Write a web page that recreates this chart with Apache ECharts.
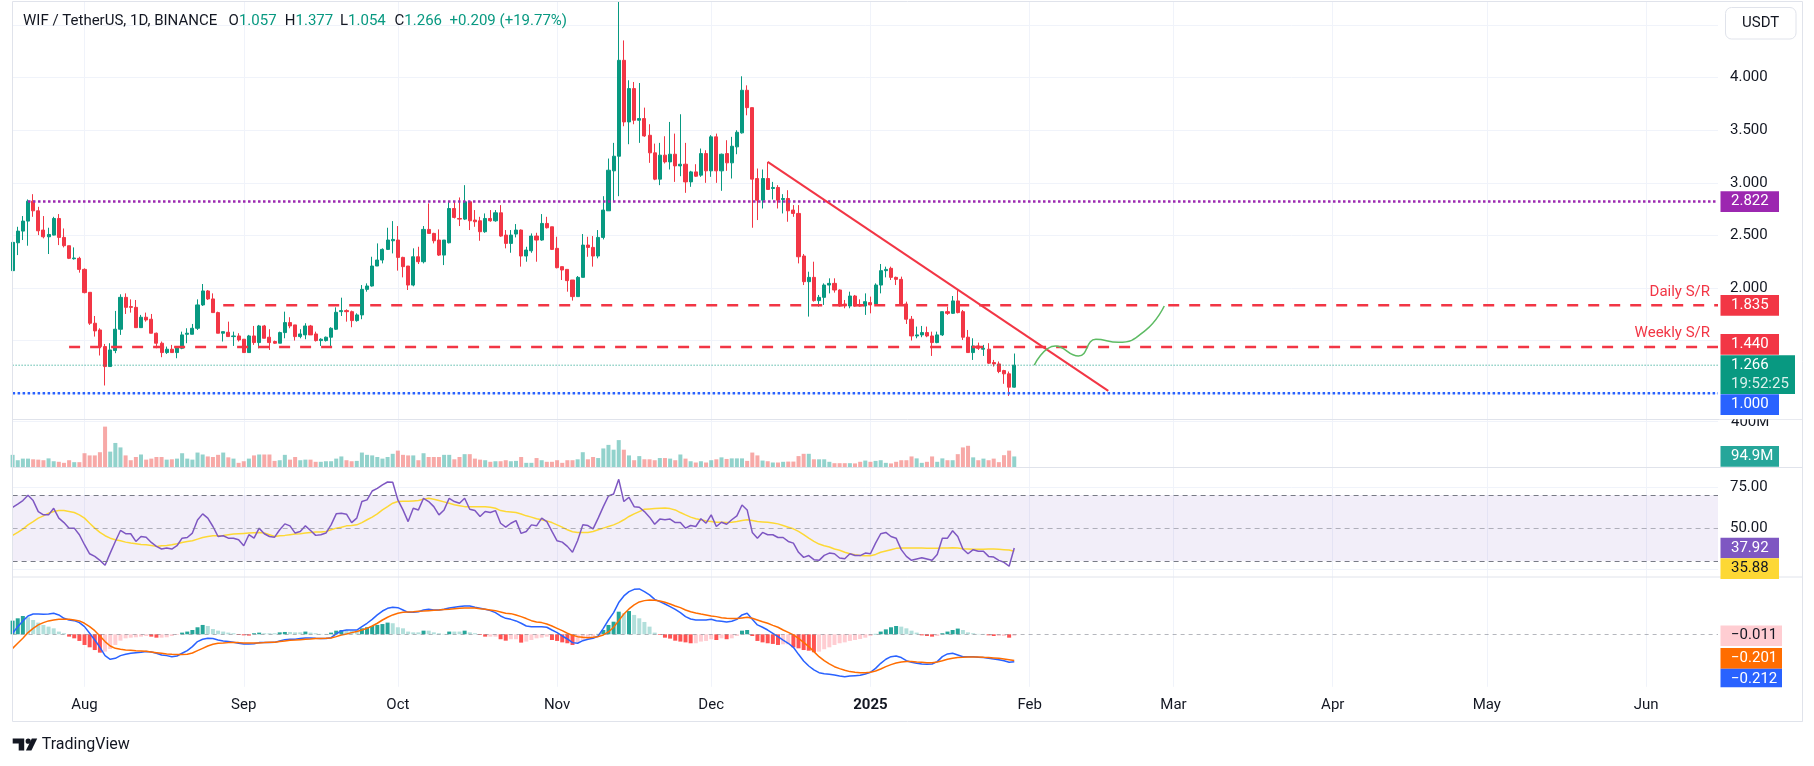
<!DOCTYPE html>
<html><head><meta charset="utf-8">
<script src="https://cdn.jsdelivr.net/npm/echarts@6/dist/echarts.min.js"></script>
<style>html,body{margin:0;padding:0;background:#fff;}#c{width:1814px;height:766px;}</style>
</head><body><div id="c"></div>
<script>
// ---------- data ----------
const START_DATE = [2024, 6, 18];   // first candle: 18 Jul 2024
const AXIS_DAYS = 333;              // axis runs to mid June 2025
const MONTHS = ['Jan','Feb','Mar','Apr','May','Jun','Jul','Aug','Sep','Oct','Nov','Dec'];

const opens = [
2.165,2.430,2.541,2.636,2.826,2.734,2.551,2.487,2.503,2.661,
2.481,2.402,2.278,2.282,2.177,1.959,1.665,1.601,1.443,1.253,
1.405,1.608,1.911,1.823,1.816,1.623,1.722,1.703,1.570,1.475,
1.386,1.418,1.386,1.427,1.560,1.560,1.617,1.839,1.972,1.896,
1.766,1.570,1.579,1.538,1.544,1.513,1.386,1.544,1.481,1.639,
1.532,1.491,1.475,1.576,1.671,1.649,1.538,1.554,1.639,1.563,
1.500,1.500,1.532,1.608,1.775,1.785,1.775,1.690,1.744,1.987,
2.019,2.209,2.266,2.367,2.449,2.456,2.291,2.209,2.028,2.297,
2.250,2.557,2.519,2.456,2.313,2.430,2.756,2.661,2.655,2.820,
2.646,2.639,2.535,2.661,2.639,2.715,2.503,2.424,2.513,2.551,
2.304,2.354,2.494,2.456,2.614,2.582,2.377,2.203,2.177,2.076,
1.918,2.101,2.408,2.386,2.304,2.481,2.734,3.114,3.253,4.165,
3.579,3.896,3.595,3.611,3.452,3.285,3.035,3.263,3.199,3.272,
3.161,3.177,3.009,3.104,3.073,3.278,3.114,3.437,3.114,3.278,
3.190,3.342,3.475,3.880,3.715,3.041,2.835,3.041,2.946,2.956,
2.842,2.851,2.741,2.709,2.304,2.060,2.101,1.880,1.911,2.028,
2.044,1.981,1.848,1.829,1.924,1.839,1.829,1.861,1.848,2.028,
2.165,2.187,2.101,2.082,1.848,1.703,1.544,1.554,1.576,1.544,
1.481,1.554,1.775,1.759,1.877,1.775,1.532,1.386,1.449,1.418,
1.418,1.291,1.278,1.215,1.184,1.057];
const highs = [
2.456,2.582,2.684,2.842,2.892,2.772,2.684,2.573,2.677,2.703,
2.566,2.402,2.386,2.297,2.187,1.959,1.734,1.617,1.468,1.475,
1.782,1.940,1.949,1.892,1.886,1.744,1.766,1.753,1.576,1.491,
1.443,1.459,1.443,1.585,1.617,1.658,1.892,2.038,1.981,1.949,
1.775,1.585,1.680,1.585,1.570,1.513,1.554,1.639,1.649,1.649,
1.608,1.500,1.585,1.775,1.722,1.649,1.608,1.665,1.649,1.585,
1.522,1.538,1.627,1.816,1.908,1.797,1.785,1.759,2.028,2.044,
2.297,2.424,2.377,2.573,2.636,2.589,2.297,2.209,2.377,2.392,
2.589,2.804,2.525,2.557,2.456,2.826,2.820,2.861,2.978,2.826,
2.741,2.677,2.709,2.741,2.741,2.788,2.551,2.551,2.608,2.557,
2.392,2.519,2.525,2.703,2.677,2.582,2.487,2.203,2.177,2.076,
2.114,2.513,2.487,2.494,2.551,2.873,3.231,3.380,4.720,4.354,
3.975,3.959,3.949,3.715,3.557,3.373,3.380,3.443,3.579,3.468,
3.652,3.380,3.114,3.177,3.326,3.310,3.453,3.468,3.278,3.405,
3.437,3.500,4.013,3.927,3.715,3.136,3.127,3.199,3.009,2.978,
2.892,2.930,2.788,2.788,2.323,2.155,2.250,1.934,2.044,2.092,
2.092,1.987,1.886,1.965,1.934,1.892,1.949,1.918,2.044,2.228,
2.203,2.203,2.108,2.108,1.870,1.734,1.633,1.639,1.633,1.585,
1.585,1.775,1.823,1.924,1.981,1.791,1.601,1.522,1.481,1.459,
1.475,1.316,1.301,1.222,1.206,1.377];
const lows = [
2.150,2.313,2.456,2.402,2.677,2.503,2.472,2.323,2.500,2.408,
2.386,2.275,2.270,2.146,1.949,1.649,1.538,1.358,1.073,1.253,
1.380,1.554,1.753,1.766,1.623,1.623,1.680,1.570,1.427,1.342,
1.373,1.386,1.332,1.418,1.475,1.560,1.601,1.829,1.886,1.766,
1.570,1.491,1.535,1.449,1.491,1.386,1.386,1.459,1.427,1.522,
1.411,1.469,1.475,1.522,1.617,1.500,1.522,1.513,1.554,1.491,
1.449,1.491,1.443,1.601,1.734,1.680,1.627,1.680,1.703,1.965,
2.013,2.209,2.234,2.361,2.329,2.165,2.101,1.981,2.016,2.228,
2.234,2.519,2.424,2.304,2.218,2.424,2.661,2.589,2.646,2.551,
2.582,2.449,2.525,2.630,2.630,2.487,2.377,2.335,2.481,2.203,
2.250,2.335,2.250,2.449,2.566,2.361,2.187,2.076,1.965,1.880,
1.918,2.101,2.297,2.203,2.282,2.462,2.734,2.820,2.873,3.538,
3.367,3.557,3.380,3.437,3.190,3.025,2.978,3.184,3.127,3.009,
3.063,2.905,2.962,3.057,3.057,3.000,3.057,3.000,2.924,3.114,
3.041,3.272,3.468,3.642,2.573,2.646,2.756,2.937,2.842,2.756,
2.709,2.630,2.677,2.234,2.028,1.728,1.870,1.823,1.839,1.949,
1.956,1.823,1.807,1.807,1.823,1.823,1.744,1.759,1.839,1.949,
2.101,2.076,2.028,1.839,1.658,1.500,1.522,1.532,1.532,1.354,
1.475,1.544,1.744,1.753,1.759,1.506,1.386,1.316,1.411,1.354,
1.278,1.253,1.190,1.089,0.975,1.054];
const closes = [
2.434,2.541,2.636,2.826,2.734,2.544,2.487,2.509,2.661,2.481,
2.402,2.282,2.285,2.177,1.956,1.665,1.592,1.443,1.253,1.411,
1.608,1.911,1.816,1.816,1.623,1.722,1.696,1.570,1.475,1.386,
1.418,1.386,1.437,1.554,1.570,1.617,1.839,1.972,1.896,1.766,
1.570,1.585,1.538,1.544,1.506,1.386,1.544,1.481,1.639,1.522,
1.481,1.475,1.576,1.671,1.639,1.538,1.563,1.639,1.554,1.500,
1.513,1.532,1.617,1.769,1.785,1.775,1.690,1.744,1.987,2.019,
2.209,2.266,2.367,2.456,2.462,2.291,2.203,2.028,2.297,2.250,
2.557,2.519,2.449,2.313,2.456,2.756,2.671,2.655,2.820,2.639,
2.630,2.535,2.661,2.639,2.715,2.494,2.424,2.503,2.551,2.304,
2.361,2.494,2.456,2.614,2.573,2.367,2.193,2.171,2.070,1.918,
2.101,2.408,2.386,2.304,2.481,2.741,3.120,3.253,4.165,3.579,
3.896,3.595,3.611,3.446,3.285,3.035,3.263,3.199,3.272,3.161,
3.177,3.009,3.104,3.063,3.278,3.114,3.437,3.114,3.272,3.190,
3.348,3.481,3.880,3.715,3.035,2.835,3.041,2.937,2.956,2.835,
2.851,2.734,2.709,2.297,2.060,2.101,1.880,1.911,2.028,2.044,
1.981,1.829,1.829,1.924,1.829,1.829,1.870,1.839,2.028,2.165,
2.177,2.101,2.082,1.848,1.703,1.544,1.554,1.576,1.544,1.481,
1.554,1.775,1.759,1.877,1.766,1.532,1.386,1.449,1.427,1.427,
1.285,1.278,1.206,1.184,1.057,1.266];
// volume in millions
const volumes = [
109,62,76,76,70,67,62,78,53,48,
39,62,45,45,123,104,104,132,356,137,
213,174,104,62,90,112,67,76,90,90,
67,70,76,123,76,67,129,112,95,90,
109,129,87,76,39,53,76,104,112,112,
112,56,62,109,67,90,62,67,67,48,
48,53,53,76,95,62,53,56,129,109,
104,90,76,90,118,146,109,104,104,62,
123,90,90,90,109,109,70,90,115,115,
76,67,62,48,53,53,62,53,56,90,
39,39,81,62,48,48,62,39,62,62,
70,132,70,90,81,165,196,154,238,154,
104,62,98,70,70,62,81,81,76,62,
112,76,53,42,53,42,62,70,87,73,
78,78,78,56,129,104,59,53,42,42,
48,50,50,98,118,118,70,70,70,48,
36,36,36,36,34,48,59,48,56,62,
39,34,48,62,62,95,78,39,48,95,
48,78,62,62,115,174,188,87,62,76,
62,76,45,106,146,94.9];
const rsi = [
62.7,64.7,66.8,70.0,66.8,60.1,58.1,58.1,62.1,56.1,
53.4,50.0,50.0,46.0,39.9,34.4,32.8,30.4,27.4,34.8,
41.9,48.6,46.6,46.6,41.9,44.9,44.5,41.3,38.9,37.3,
37.9,37.3,39.3,43.9,44.3,47.0,55.0,58.7,56.1,51.0,
44.9,45.4,43.9,43.9,42.9,39.3,46.0,43.9,50.0,46.6,
44.9,44.5,49.0,52.6,51.4,47.0,48.0,51.4,48.6,45.6,
46.0,47.0,52.0,58.7,59.1,58.5,53.4,56.1,66.2,67.2,
72.6,74.2,76.3,78.1,77.9,67.2,61.1,54.0,62.1,61.1,
68.2,66.2,63.1,58.1,61.1,68.2,66.2,65.2,68.2,61.5,
60.7,57.1,60.1,59.5,60.7,53.0,50.6,53.0,54.6,46.8,
48.0,52.0,51.4,56.1,54.0,48.0,42.3,41.5,38.9,35.3,
42.5,52.0,51.6,49.6,56.1,63.1,69.6,70.8,79.7,66.2,
68.8,63.1,62.7,60.1,56.7,52.4,55.5,55.1,55.5,53.4,
53.4,50.0,51.6,51.0,55.7,53.0,58.1,51.0,53.6,52.4,
55.1,57.5,64.1,61.1,47.4,43.9,47.4,46.0,46.0,44.3,
44.3,41.9,40.9,35.3,32.2,33.3,30.8,30.4,33.4,34.8,
34.4,31.8,31.4,34.4,33.3,33.3,34.8,34.4,40.9,46.6,
47.4,44.9,43.9,36.9,32.8,30.4,31.2,32.0,31.2,30.4,
33.9,43.9,43.9,48.4,44.9,37.3,34.4,36.9,35.9,35.9,
32.8,32.4,30.4,29.2,26.8,37.92];
const rsiMA = [
45.6,47.4,49.4,52.0,54.0,56.1,57.5,59.1,60.1,60.7,
60.7,60.1,59.5,58.1,56.1,53.0,50.0,47.4,45.4,43.9,
42.9,42.3,41.5,40.9,40.5,40.1,39.9,39.5,38.9,39.3,
39.5,39.9,40.5,41.3,41.9,42.3,43.3,44.3,44.9,45.4,
45.4,45.6,46.0,46.4,46.6,46.8,47.0,47.2,47.4,47.0,
46.0,44.9,45.4,45.6,46.0,46.4,46.6,47.0,47.4,47.6,
47.6,48.0,49.0,50.0,50.6,51.4,51.6,52.0,53.4,55.1,
56.7,58.7,61.1,63.1,65.2,66.2,66.4,66.4,66.6,66.8,
67.6,68.2,67.6,66.8,66.0,65.2,64.3,63.7,63.1,63.1,
63.1,63.1,63.1,62.7,62.1,60.7,60.1,59.9,59.5,58.6,
57.5,56.7,55.7,55.1,54.4,53.4,52.0,50.6,49.0,47.8,
47.4,47.4,47.4,48.0,49.0,50.0,51.0,52.0,53.4,55.1,
57.1,58.7,60.1,61.5,61.7,61.9,62.1,62.3,61.9,61.1,
59.5,58.1,56.7,55.7,55.1,54.4,54.0,53.6,53.6,53.4,
53.6,54.0,54.6,55.1,54.6,54.0,53.8,53.6,53.2,52.6,
51.6,50.6,49.6,48.0,46.0,43.9,41.9,40.3,39.3,38.5,
37.3,36.5,35.3,34.4,33.8,33.4,33.2,33.2,34.0,35.3,
36.1,36.9,37.7,37.9,37.9,37.9,37.9,37.9,37.7,37.7,
37.7,37.9,37.9,38.1,37.9,37.5,37.3,37.1,37.1,37.1,
37.3,37.3,37.1,36.9,36.7,35.88];
const macd = [
0.008,0.059,0.103,0.141,0.156,0.156,0.154,0.156,0.162,0.149,
0.123,0.110,0.105,0.090,0.059,0.008,-0.044,-0.100,-0.164,-0.192,
-0.185,-0.164,-0.154,-0.146,-0.141,-0.138,-0.133,-0.136,-0.146,-0.159,
-0.164,-0.172,-0.167,-0.146,-0.126,-0.095,-0.056,-0.038,-0.031,-0.033,
-0.044,-0.051,-0.056,-0.062,-0.069,-0.074,-0.074,-0.072,-0.064,-0.064,
-0.064,-0.062,-0.051,-0.041,-0.038,-0.038,-0.033,-0.028,-0.028,-0.031,
-0.033,-0.033,-0.026,0.003,0.026,0.033,0.033,0.033,0.059,0.085,
0.115,0.149,0.179,0.200,0.208,0.205,0.187,0.169,0.169,0.174,
0.187,0.192,0.187,0.187,0.192,0.203,0.208,0.213,0.218,0.218,
0.208,0.200,0.192,0.182,0.167,0.141,0.123,0.115,0.103,0.085,
0.064,0.059,0.059,0.059,0.054,0.033,0.013,-0.013,-0.036,-0.064,
-0.069,-0.049,-0.038,-0.031,-0.013,0.046,0.110,0.167,0.244,0.295,
0.328,0.346,0.349,0.328,0.303,0.269,0.251,0.233,0.213,0.192,
0.167,0.136,0.118,0.110,0.110,0.110,0.115,0.105,0.100,0.095,
0.100,0.115,0.149,0.162,0.115,0.072,0.054,0.033,0.008,-0.018,
-0.044,-0.069,-0.100,-0.154,-0.205,-0.244,-0.274,-0.295,-0.303,-0.308,
-0.313,-0.321,-0.326,-0.321,-0.318,-0.315,-0.305,-0.292,-0.262,-0.223,
-0.192,-0.172,-0.167,-0.179,-0.203,-0.215,-0.223,-0.228,-0.231,-0.228,
-0.210,-0.172,-0.151,-0.146,-0.159,-0.172,-0.172,-0.172,-0.177,-0.179,
-0.185,-0.190,-0.195,-0.203,-0.215,-0.212];
const signal = [
-0.108,-0.069,-0.031,0.013,0.046,0.072,0.090,0.103,0.110,0.115,
0.115,0.115,0.110,0.103,0.085,0.059,0.028,-0.013,-0.056,-0.090,
-0.108,-0.115,-0.121,-0.123,-0.126,-0.128,-0.131,-0.136,-0.141,-0.146,
-0.151,-0.154,-0.156,-0.156,-0.154,-0.144,-0.126,-0.108,-0.090,-0.077,
-0.069,-0.067,-0.064,-0.064,-0.064,-0.067,-0.067,-0.067,-0.067,-0.064,
-0.062,-0.062,-0.056,-0.051,-0.046,-0.044,-0.041,-0.038,-0.036,-0.033,
-0.033,-0.031,-0.028,-0.018,-0.005,0.003,0.013,0.021,0.033,0.046,
0.064,0.085,0.110,0.131,0.149,0.162,0.169,0.172,0.174,0.177,
0.179,0.182,0.185,0.187,0.190,0.192,0.197,0.200,0.203,0.203,
0.203,0.197,0.192,0.187,0.182,0.172,0.162,0.159,0.149,0.136,
0.121,0.105,0.095,0.090,0.079,0.064,0.046,0.028,0.008,-0.008,
-0.018,-0.023,-0.026,-0.023,-0.018,-0.005,0.018,0.054,0.105,0.156,
0.195,0.226,0.249,0.259,0.264,0.262,0.256,0.246,0.233,0.218,
0.205,0.187,0.174,0.164,0.156,0.149,0.141,0.136,0.128,0.123,
0.121,0.121,0.126,0.131,0.123,0.110,0.097,0.085,0.069,0.054,
0.033,0.015,-0.005,-0.031,-0.062,-0.095,-0.133,-0.172,-0.203,-0.228,
-0.249,-0.264,-0.277,-0.287,-0.292,-0.295,-0.295,-0.292,-0.282,-0.267,
-0.249,-0.233,-0.221,-0.213,-0.210,-0.210,-0.213,-0.215,-0.218,-0.218,
-0.213,-0.203,-0.192,-0.185,-0.179,-0.177,-0.174,-0.174,-0.174,-0.177,
-0.179,-0.182,-0.185,-0.190,-0.195,-0.201];
const hist = [
0.105,0.123,0.141,0.131,0.110,0.090,0.072,0.059,0.046,0.021,
0.008,-0.018,-0.031,-0.051,-0.082,-0.100,-0.121,-0.141,-0.133,-0.113,
-0.082,-0.049,-0.031,-0.026,-0.023,-0.018,-0.013,-0.018,-0.026,-0.026,
-0.023,-0.013,-0.005,0.013,0.021,0.033,0.054,0.072,0.064,0.041,
0.028,0.021,0.013,0.008,-0.005,-0.008,-0.010,0.008,0.013,0.008,
0.008,0.008,0.015,0.018,0.018,0.015,0.015,0.021,0.013,0.008,
0.003,0.003,0.013,0.028,0.033,0.033,0.028,0.028,0.046,0.054,
0.064,0.072,0.079,0.090,0.085,0.054,0.046,0.021,0.015,0.015,
0.028,0.028,0.015,0.008,0.003,0.021,0.021,0.021,0.028,0.015,
0.008,-0.005,-0.018,-0.018,-0.018,-0.038,-0.049,-0.038,-0.038,-0.064,
-0.056,-0.044,-0.031,-0.026,-0.018,-0.044,-0.051,-0.062,-0.069,-0.082,
-0.064,-0.044,-0.031,-0.018,0.003,0.033,0.072,0.097,0.174,0.162,
0.179,0.149,0.123,0.095,0.059,0.013,-0.005,-0.026,-0.033,-0.049,
-0.056,-0.062,-0.069,-0.069,-0.056,-0.051,-0.038,-0.044,-0.031,-0.038,
-0.031,-0.013,0.028,0.033,-0.013,-0.051,-0.062,-0.069,-0.074,-0.082,
-0.077,-0.077,-0.100,-0.108,-0.121,-0.126,-0.138,-0.133,-0.115,-0.100,
-0.082,-0.069,-0.062,-0.051,-0.044,-0.036,-0.026,-0.013,0.003,0.021,
0.038,0.054,0.064,0.059,0.046,0.028,0.013,-0.008,-0.013,-0.018,
-0.013,0.008,0.021,0.033,0.044,0.033,0.015,0.008,0.003,0.003,
-0.008,-0.013,-0.013,-0.013,-0.026,-0.011];

const priceTickLabels = [2, 2.5, 3, 3.5, 4];
const priceGridValues = [1, 1.5, 2, 2.5, 3, 3.5, 4, 4.5];
const rsiTickLabels = [50, 75];
const rsiGridValues = [25, 75];
const rsiBands = [70, 50, 30];
const volumeTickLabel = 400;

// horizontal levels [value, first candle index]
const levelResistance = [2.822, 3];
const levelDaily = [1.835, 41];
const levelWeekly = [1.440, 11];
const levelLast = [1.266, 0];
const levelSupport = [1.000, 0];
// trend line and projected path (x in day index, y in price)
const trendLine = [[147, 3.199], [213.3, 1.022]];
const projection = [[198.9,1.267],[203.0,1.448],[207.5,1.353],[210.9,1.512],[215.3,1.483],[220.6,1.600],[224.2,1.829]];
const countdown = '19:52:25';

// ---------- build ----------
const FONT = 'Roboto, "Open Sans", Arial, sans-serif';
const TXT = '#131722', UP = '#089981', DOWN = '#F23645';
const dates = [];
const t0 = Date.UTC(START_DATE[0], START_DATE[1], START_DATE[2]);
for (let k = 0; k < AXIS_DAYS; k++) dates.push(new Date(t0 + k * 864e5).toISOString().slice(0, 10));
const isMonthStart = (i, v) => v.slice(8) === '01';
const LAST = AXIS_DAYS - 1;

const candleData = opens.map((o, i) => [o, closes[i], lows[i], highs[i]]);
const volData = volumes.map((v, i) => ({ value: v, itemStyle: { color: closes[i] >= opens[i] ? 'rgba(38,166,154,0.5)' : 'rgba(239,83,80,0.5)' } }));
const histData = hist.map((h, i) => {
  const p = i > 0 ? hist[i - 1] : -Infinity;
  let c;
  if (h >= 0) c = (i === 0 || h > p) ? '#26A69A' : '#B2DFDB';
  else c = (h < p) ? '#FF5252' : '#FFCDD2';
  return { value: h, itemStyle: { color: c } };
});

const L = 12.6, R = 96;
const grids = [
  { left: L, right: R, top: 2, height: 417.3 },
  { left: L, right: R, top: 419.3, height: 48 },
  { left: L, right: R, top: 467.3, height: 109.5 },
  { left: L, right: R, top: 576.8, height: 110 }
];
const mkX = (gi, show) => ({
  type: 'category', gridIndex: gi, data: dates, boundaryGap: false,
  axisLine: { show: false }, axisTick: { show: false },
  axisPointer: { show: false },
  axisLabel: show ? {
    show: true, interval: isMonthStart, margin: 11, color: TXT, fontSize: 15, fontFamily: FONT,
    formatter: v => { const m = +v.slice(5, 7); return m === 1 ? '{y|' + v.slice(0, 4) + '}' : MONTHS[m - 1]; },
    rich: { y: { fontWeight: 'bold', fontSize: 15, fontFamily: FONT, color: TXT } }
  } : { show: false },
  splitLine: { show: true, interval: isMonthStart, alignWithLabel: true, lineStyle: { color: '#F0F3FA', width: 1 } }
});
const xAxes = [mkX(0, false), mkX(1, false), mkX(2, false), mkX(3, true),
  { type: 'value', gridIndex: 0, min: 0, max: LAST, show: false }];

const yAxes = [
  { type: 'value', gridIndex: 0, position: 'right', min: 0.7515, max: 4.7194, scale: true,
    axisLine: { show: false }, axisTick: { show: false, customValues: priceGridValues },
    axisLabel: { customValues: priceTickLabels, formatter: v => v.toFixed(3), margin: 12, color: TXT, fontSize: 15, fontFamily: FONT },
    splitLine: { show: true, lineStyle: { color: '#F0F3FA' } } },
  { type: 'value', gridIndex: 1, position: 'right', min: 0, max: 420,
    axisLine: { show: false }, axisTick: { show: false, customValues: [volumeTickLabel] },
    axisLabel: { show: false }, splitLine: { show: true, lineStyle: { color: '#F0F3FA' } } },
  { type: 'value', gridIndex: 2, position: 'right', min: 20.38, max: 87.05,
    axisLine: { show: false }, axisTick: { show: false, customValues: rsiGridValues },
    axisLabel: { customValues: rsiTickLabels, formatter: v => v.toFixed(2), margin: 12, color: TXT, fontSize: 15, fontFamily: FONT },
    splitLine: { show: true, lineStyle: { color: '#F0F3FA' } } },
  { type: 'value', gridIndex: 3, position: 'right', min: -0.4038, max: 0.4423,
    axisLine: { show: false }, axisTick: { show: false }, axisLabel: { show: false }, splitLine: { show: false } }
];

const hLine = (lv, color, width, dash) => ({
  type: 'line', xAxisIndex: 4, yAxisIndex: 0, data: [[lv[1], lv[0]], [LAST, lv[0]]],
  symbol: 'none', silent: true, z: 4, lineStyle: { color, width, type: dash }
});

const series = [
  { type: 'candlestick', xAxisIndex: 0, yAxisIndex: 0, data: candleData, barWidth: 3.6, z: 3,
    itemStyle: { color: UP, color0: DOWN, borderColor: UP, borderColor0: DOWN, borderWidth: 1 } },
  hLine(levelLast, UP, 1, [1, 2]),
  hLine(levelSupport, '#2962FF', 2.5, [2.5, 2.5]),
  hLine(levelResistance, '#9C27B0', 2.5, [2.5, 2.5]),
  hLine(levelDaily, DOWN, 2.5, [11, 10]),
  hLine(levelWeekly, DOWN, 2.5, [11, 10]),
  { type: 'line', xAxisIndex: 4, yAxisIndex: 0, data: trendLine, symbol: 'none', silent: true, z: 5,
    lineStyle: { color: DOWN, width: 2 } },
  { type: 'line', xAxisIndex: 4, yAxisIndex: 0, data: projection, symbol: 'none', smooth: 0.5, silent: true, z: 5,
    lineStyle: { color: '#5DBB63', width: 1.5 } },
  { type: 'bar', xAxisIndex: 1, yAxisIndex: 1, data: volData, barWidth: 4, silent: true },
  { type: 'line', xAxisIndex: 2, yAxisIndex: 2, data: rsi, symbol: 'none', silent: true, z: 4,
    lineStyle: { color: '#7E57C2', width: 1.5 },
    markArea: { silent: true, itemStyle: { color: 'rgba(126,87,194,0.1)' }, data: [[{ yAxis: rsiBands[2] }, { yAxis: rsiBands[0] }]] },
    markLine: { silent: true, symbol: 'none', label: { show: false },
      data: [
        { yAxis: rsiBands[0], lineStyle: { color: '#787B86', type: [5, 4], width: 1 } },
        { yAxis: rsiBands[1], lineStyle: { color: 'rgba(120,123,134,0.55)', type: [5, 4], width: 1 } },
        { yAxis: rsiBands[2], lineStyle: { color: '#787B86', type: [5, 4], width: 1 } }
      ] } },
  { type: 'line', xAxisIndex: 2, yAxisIndex: 2, data: rsiMA, symbol: 'none', silent: true, z: 3,
    lineStyle: { color: '#FDD835', width: 1.5 } },
  { type: 'bar', xAxisIndex: 3, yAxisIndex: 3, data: histData, barWidth: 4, silent: true,
    markLine: { silent: true, symbol: 'none', label: { show: false },
      data: [{ yAxis: 0, lineStyle: { color: 'rgba(120,123,134,0.55)', type: [4, 4], width: 1 } }] } },
  { type: 'line', xAxisIndex: 3, yAxisIndex: 3, data: macd, symbol: 'none', silent: true, z: 4,
    lineStyle: { color: '#2962FF', width: 1.5 } },
  { type: 'line', xAxisIndex: 3, yAxisIndex: 3, data: signal, symbol: 'none', silent: true, z: 4,
    lineStyle: { color: '#FF6D00', width: 1.5 } }
];

const chart = echarts.init(document.getElementById('c'), null, { renderer: 'canvas', width: 1814, height: 766 });
chart.setOption({ animation: false, backgroundColor: '#ffffff', grid: grids, xAxis: xAxes, yAxis: yAxes, series });

// ---------- annotations (real text) ----------
const py = (axis, v) => chart.convertToPixel({ yAxisIndex: axis }, v);
const g = [];
const font = (size, weight) => (weight || 'normal') + ' ' + size + 'px ' + FONT;
const text = (x, y, s, fill, opt) => g.push({ type: 'text', x, y, z: 120, silent: true,
  style: Object.assign({ text: s, fill: fill || TXT, font: font(15), align: 'left', verticalAlign: 'middle' }, opt || {}) });
const rect = (x, y, w, h, fill, z, stroke, r) => g.push({ type: 'rect', z: z || 110, silent: true,
  shape: { x, y, width: w, height: h, r: r || 0 }, style: { fill, stroke: stroke || null, lineWidth: stroke ? 1 : 0 } });
const hl = (x1, x2, y, color) => g.push({ type: 'line', z: 105, silent: true, shape: { x1, y1: y, x2, y2: y }, style: { stroke: color, lineWidth: 1 } });
const BX = 1720.5, TX = 1731;
const tag = (yc, s, bg, fg, w, z) => { rect(BX, yc - 10.35, w || 58.5, 20.7, bg, z || 112); g.push({ type: 'text', x: TX, y: yc, z: (z || 112) + 1, silent: true, style: { text: s, fill: fg || '#fff', font: font(15), align: 'left', verticalAlign: 'middle' } }); };

// frame and pane separators
g.push({ type: 'rect', z: 104, silent: true, shape: { x: 12.5, y: 1.5, width: 1790, height: 720 }, style: { fill: null, stroke: '#E0E3EB', lineWidth: 1 } });
hl(12.5, 1802.5, 419.5, '#E0E3EB');
hl(12.5, 1802.5, 467.5, '#E0E3EB');
hl(12.5, 1802.5, 577, '#E0E3EB');

// header
const last = opens.length - 1;
const chg = closes[last] - closes[last - 1];
const rich = { d: { fill: TXT, font: font(15) }, gg: { fill: UP, font: font(15) } };
const hdr = [
  [23, '{d|WIF / TetherUS, 1D, BINANCE}'],
  [228.6, '{d|O}{gg|' + opens[last].toFixed(3) + '}'],
  [284.8, '{d|H}{gg|' + highs[last].toFixed(3) + '}'],
  [340, '{d|L}{gg|' + lows[last].toFixed(3) + '}'],
  [394.6, '{d|C}{gg|' + closes[last].toFixed(3) + '}'],
  [449.6, '{gg|+' + chg.toFixed(3) + ' (+' + (chg / closes[last - 1] * 100).toFixed(2) + '%)}']
];
hdr.forEach(h => g.push({ type: 'text', x: h[0], y: 21.5, z: 120, silent: true, style: { text: h[1], rich, font: font(15), align: 'left', verticalAlign: 'middle' } }));

// USDT box
rect(1725.5, 7.5, 70.5, 31.5, '#ffffff', 110, '#E0E3EB', 6);
text(1760.7, 23.5, 'USDT', TXT, { align: 'center' });

// S/R labels
text(1710, py(0, levelDaily[0]) - 13, 'Daily S/R', DOWN, { align: 'right' });
text(1710, py(0, levelWeekly[0]) - 14, 'Weekly S/R', DOWN, { align: 'right' });

// price tags
tag(py(0, levelResistance[0]), levelResistance[0].toFixed(3), '#9C27B0');
tag(py(0, levelDaily[0]), levelDaily[0].toFixed(3), DOWN);
tag(py(0, levelWeekly[0]) - 2.6, levelWeekly[0].toFixed(3), DOWN);
const yl = py(0, levelLast[0]);
rect(BX, yl - 10, 74.5, 38.7, UP, 112);
text(TX, yl, levelLast[0].toFixed(3), '#ffffff', { });
text(TX, yl + 19, countdown, 'rgba(255,255,255,0.85)');
// volume label (partly hidden under the pane edge)
text(1731, py(1, volumeTickLabel) + 1, volumeTickLabel + 'M', TXT, { });
rect(1719, 404, 83, 15.3, '#ffffff', 121);
tag(py(0, levelSupport[0]) + 11.5, levelSupport[0].toFixed(3), '#2962FF', '#fff', 58.5, 122);
hl(1718, 1802.5, 419.5, '#E0E3EB');
tag(py(1, volumes[last]), volumes[last].toFixed(1) + 'M', '#26A69A');
// RSI tags
const yr = py(2, rsi[last]);
tag(yr, rsi[last].toFixed(2), '#7E57C2');
tag(yr + 20.7, rsiMA[last].toFixed(2), '#FDD835', TXT);
// MACD tags
const fmt = v => (v < 0 ? '\u2212' : '') + Math.abs(v).toFixed(3);
const yh = py(3, hist[last]);
tag(yh, fmt(hist[last]), '#FFCDD2', TXT, 61.5);
tag(yh + 22.7, fmt(signal[last]), '#FF6D00', '#fff', 61.5);
tag(yh + 43.4, fmt(macd[last]), '#2962FF', '#fff', 61.5);
rect(1719, 687.2, 83, 34, '#ffffff', 130);
g.push({ type: 'line', z: 131, silent: true, shape: { x1: 1719, y1: 721.5, x2: 1802.5, y2: 721.5 }, style: { stroke: '#E0E3EB', lineWidth: 1 } });

// TradingView logo
g.push({ type: 'polygon', z: 120, silent: true, shape: { points: [[12.7, 738.5], [24.2, 738.5], [24.2, 750.5], [18.7, 750.5], [18.7, 743.5], [12.7, 743.5]] }, style: { fill: TXT } });
g.push({ type: 'circle', z: 120, silent: true, shape: { cx: 28.2, cy: 741.2, r: 2.6 }, style: { fill: TXT } });
g.push({ type: 'polygon', z: 120, silent: true, shape: { points: [[31.8, 738.5], [37.2, 738.5], [31.4, 750.5], [25.9, 750.5]] }, style: { fill: TXT } });
text(41.7, 744.5, 'TradingView', TXT, { font: font(16) });

chart.setOption({ graphic: g });
</script></body></html>
